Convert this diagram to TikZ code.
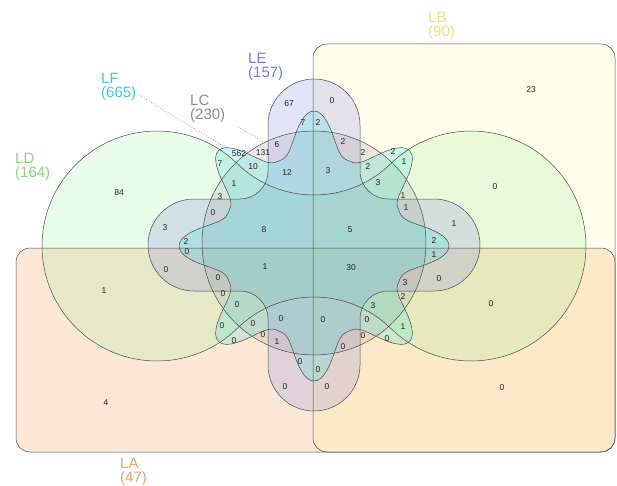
\documentclass[tikz,border=0pt]{standalone}
\usepackage{fontspec}
\setmainfont{Liberation Sans}
\definecolor{cA}{HTML}{F4A460}
\definecolor{cB}{HTML}{FFF080}
\definecolor{cC}{HTML}{999999}
\definecolor{cD}{HTML}{90EE90}
\definecolor{cE}{HTML}{8A8AE0}
\definecolor{cF}{HTML}{40E0E0}
\definecolor{tA}{HTML}{E2A56E}
\definecolor{tB}{HTML}{E3E37A}
\definecolor{tC}{HTML}{8E8E8E}
\definecolor{tD}{HTML}{82D482}
\definecolor{tE}{HTML}{7C7CD6}
\definecolor{tF}{HTML}{3DCCD4}
\newcommand\shpA{(16,248) rectangle (615,452)}
\newcommand\shpB{(313,44) rectangle (615,452)}
\newcommand\shpC{(314,243) circle[radius=112]}
\newcommand\shpD{(237.4,163.8) arc[start angle=-45.64, end angle=-314.36, radius=115]
  arc[start angle=-134.34, end angle=-45.66, radius=109.6]
  arc[start angle=134.36, end angle=-134.36, radius=115]
  arc[start angle=45.66, end angle=134.34, radius=109.6] -- cycle}
\newcommand\shpE{(268,125) arc[start angle=180, end angle=360, radius=46] -- (360,171)
  arc[start angle=180, end angle=90, radius=28] -- (434,199)
  arc[start angle=-90, end angle=90, radius=46] -- (388,291)
  arc[start angle=-90, end angle=-180, radius=28] -- (360,365)
  arc[start angle=0, end angle=180, radius=46] -- (268,319)
  arc[start angle=0, end angle=-90, radius=28] -- (194,291)
  arc[start angle=90, end angle=270, radius=46] -- (240,199)
  arc[start angle=90, end angle=0, radius=28] -- cycle}
\newcommand\shpF{plot[domain=0:358.5, samples=240, smooth cycle, variable=\t]
  ({314+flr(\t)*cos(\t)},{246+flr(\t)*sin(\t)})}
\begin{document}
\begin{tikzpicture}[x=1pt,y=-1pt,
  num/.style={font=\fontsize{8.5}{9}\selectfont, inner sep=0pt, text=black!85},
  setlab/.style={font=\fontsize{15}{14}\selectfont, inner sep=0pt, anchor=north west, align=left},
  outl/.style={draw=black!70, line width=0.5pt},
  leader/.style={draw=gray!75, dotted, line width=0.8pt},
  declare function={fc(\t)=(1+cos(8*\t))/2; flr(\t)=92+43*fc(\t)*sqrt(abs(fc(\t)));}
]
\useasboundingbox (0,0) rectangle (617,486);
% fills
\path[fill=cA, fill opacity=.26, rounded corners=14pt] \shpA;
\path[fill=cB, fill opacity=.15, rounded corners=14pt] \shpB;
\path[fill=cD, fill opacity=.2] \shpD;
\path[fill=cE, fill opacity=.24] \shpE;
\path[fill=cC, fill opacity=.2] \shpC;
\path[fill=cF, fill opacity=.24] \shpF;
% outlines
\draw[outl, rounded corners=14pt] \shpA;
\draw[outl, rounded corners=14pt] \shpB;
\draw[outl] \shpD;
\draw[outl] \shpE;
\draw[outl] \shpC;
\draw[outl] \shpF;
% set labels
\node[setlab, text=tA] (LA) at (120,458) {LA\\(47)};
\node[setlab, text=tB] (LB) at (428,12) {LB\\(90)};
\node[setlab, text=tC] (LC) at (190,95) {LC\\(230)};
\node[setlab, text=tD] (LD) at (15,153) {LD\\(164)};
\node[setlab, text=tE] (LE) at (248,53) {LE\\(157)};
\node[setlab, text=tF] (LF) at (101,73) {LF\\(665)};
\coordinate (lf1) at (139,95);
\coordinate (lf2) at (228,149);
\coordinate (lc1) at (238,127);
\coordinate (lc2) at (267,144);
\draw[leader] (lf1) -- (lf2);
\draw[leader] (lc1) -- (lc2);
% region counts
\foreach \x/\y/\t [count=\i] in {531/90/23, 289/104/67, 332/101/0, 303/123/7, 318/123/2, 495/187/0, 119/193/84,
 239/154/562, 263/153/131, 277/145/6, 220/164/7, 253/167/10, 287/173/12, 328/171/3,
 343/142/2, 363/153/2, 368/167/2, 393/152/2, 404/162/1, 378/183/3, 403/196/1, 406/208/1,
 234/184/1, 220/197/3, 213/213/0, 264/230/8, 350/230/5, 165/228/3, 186/242/2, 187/252/0,
 166/270/0, 218/278/0, 223/294/0, 237/305/0, 104/291/1, 265/267/1, 351/268/30,
 454/224/1, 434/241/2, 434/255/1, 439/279/0, 405/283/3, 403/297/2, 491/304/0,
 373/306/3, 367/320/0, 403/327/1, 363/336/0, 387/339/0, 343/347/0, 323/320/0,
 281/319/0, 253/324/0, 222/326/0, 234/341/0, 263/335/0, 277/342/1, 300/362/0, 318/370/0,
 285/387/0, 327/387/0, 106/403/4, 502/388/0}
  \node[num] (n\i) at (\x,\y) {\t};
\end{tikzpicture}
\end{document}
